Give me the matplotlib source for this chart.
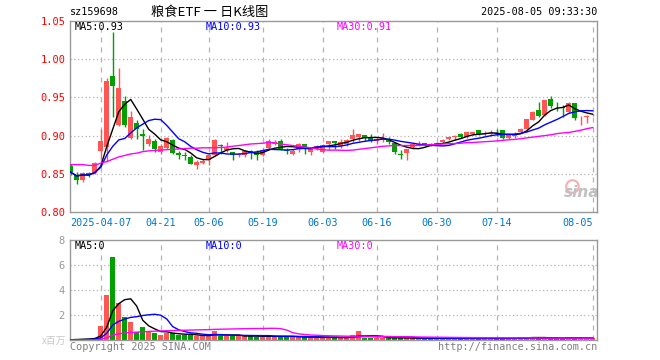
import numpy as np
import pandas as pd
import matplotlib.pyplot as plt

# daily OHLC, 2025-03-31 .. 2025-08-05 (88 trading days)
opens = [0.860, 0.849, 0.8425, 0.851, 0.851, 0.880, 0.885, 0.978, 0.914, 0.9455,
         0.897, 0.9166, 0.9025, 0.8894, 0.8925, 0.878, 0.884, 0.894, 0.877, 0.8745,
         0.872, 0.862, 0.864, 0.8675, 0.874, 0.8872, 0.8815, 0.878, 0.8745, 0.875,
         0.880, 0.8785, 0.8741, 0.8841, 0.889, 0.893, 0.8815, 0.876, 0.882, 0.8886,
         0.8785, 0.883, 0.8785, 0.8886, 0.8925, 0.8864, 0.8894, 0.8951, 0.8982, 0.9013,
         0.898, 0.8925, 0.8938, 0.8938, 0.8907, 0.8755, 0.8771, 0.8851, 0.8881, 0.890,
         0.8895, 0.8885, 0.8918, 0.896, 0.898, 0.9015, 0.898, 0.9017, 0.907, 0.9017,
         0.902, 0.9035, 0.907, 0.8975, 0.900, 0.9048, 0.9092, 0.921, 0.9335, 0.9267,
         0.9478, 0.9378, 0.937, 0.9311, 0.9421, 0.9215, 0.9245, 0.9265]
closes = [0.852, 0.8425, 0.851, 0.848, 0.864, 0.8925, 0.972, 0.965, 0.962, 0.9136,
          0.924, 0.909, 0.8995, 0.895, 0.882, 0.8865, 0.897, 0.8775, 0.875, 0.8735,
          0.8631, 0.8653, 0.8666, 0.874, 0.8947, 0.8859, 0.884, 0.875, 0.8763, 0.8793,
          0.8775, 0.8741, 0.8815, 0.8929, 0.8915, 0.883, 0.880, 0.8798, 0.8894, 0.8835,
          0.882, 0.8864, 0.888, 0.8925, 0.890, 0.8916, 0.8938, 0.9013, 0.9025, 0.897,
          0.8925, 0.8951, 0.8973, 0.8916, 0.8785, 0.875, 0.882, 0.8894, 0.8894, 0.8872,
          0.8875, 0.8905, 0.8938, 0.898, 0.900, 0.8978, 0.9045, 0.9045, 0.9017, 0.9035,
          0.904, 0.9026, 0.8975, 0.9004, 0.9022, 0.909, 0.9214, 0.9311, 0.926, 0.9466,
          0.9385, 0.9372, 0.936, 0.9421, 0.9225, 0.9223, 0.9256, 0.9276]
highs = [0.863, 0.852, 0.852, 0.852, 0.865, 0.908, 0.975, 1.035, 0.988, 0.9516,
         0.932, 0.920, 0.909, 0.901, 0.895, 0.889, 0.898, 0.895, 0.880, 0.878,
         0.8741, 0.8675, 0.8697, 0.8763, 0.896, 0.8886, 0.8916, 0.8785, 0.8776, 0.8815,
         0.8815, 0.8807, 0.8832, 0.896, 0.894, 0.895, 0.8841, 0.8828, 0.890, 0.8895,
         0.8851, 0.888, 0.889, 0.8925, 0.8925, 0.8951, 0.896, 0.9083, 0.9025, 0.9013,
         0.9025, 0.8982, 0.9039, 0.8982, 0.8916, 0.8807, 0.8829, 0.8894, 0.8925, 0.8905,
         0.8905, 0.891, 0.8955, 0.899, 0.9005, 0.9035, 0.9048, 0.9048, 0.907, 0.9057,
         0.907, 0.9083, 0.907, 0.9004, 0.905, 0.910, 0.9223, 0.932, 0.9445, 0.9466,
         0.9512, 0.9443, 0.9399, 0.9443, 0.9421, 0.926, 0.9267, 0.928]
lows = [0.849, 0.837, 0.839, 0.8455, 0.850, 0.870, 0.865, 0.925, 0.912, 0.911,
        0.895, 0.896, 0.8806, 0.887, 0.879, 0.876, 0.8825, 0.8765, 0.870, 0.868,
        0.8622, 0.8565, 0.8622, 0.8609, 0.8728, 0.8763, 0.878, 0.8684, 0.8719, 0.8719,
        0.8695, 0.8684, 0.8728, 0.8828, 0.8875, 0.8815, 0.8763, 0.8741, 0.8785, 0.876,
        0.875, 0.881, 0.8776, 0.8807, 0.8829, 0.8837, 0.8864, 0.8916, 0.8925, 0.8925,
        0.8916, 0.8894, 0.8916, 0.8894, 0.8763, 0.8697, 0.8675, 0.8829, 0.8864, 0.886,
        0.8865, 0.8875, 0.8905, 0.8945, 0.8945, 0.8965, 0.8965, 0.9005, 0.9005, 0.900,
        0.9005, 0.8995, 0.8955, 0.8951, 0.8965, 0.904, 0.9083, 0.920, 0.925, 0.9255,
        0.9364, 0.932, 0.925, 0.9302, 0.9205, 0.9145, 0.917, 0.926]
# MA30 as drawn (includes history before the first visible day)
ma30_price = [0.862, 0.862, 0.862, 0.861, 0.861, 0.864, 0.866, 0.869, 0.872, 0.874,
              0.876, 0.877, 0.879, 0.880, 0.8806, 0.881, 0.8816, 0.882, 0.8825, 0.883,
              0.8835, 0.8835, 0.884, 0.884, 0.8842, 0.8845, 0.885, 0.886, 0.887, 0.888,
              0.889, 0.8895, 0.890, 0.891, 0.8905, 0.889, 0.888, 0.887, 0.886, 0.885,
              0.884, 0.8825, 0.8815, 0.881, 0.881, 0.8808, 0.8806, 0.881, 0.882, 0.883,
              0.884, 0.885, 0.886, 0.8865, 0.887, 0.887, 0.887, 0.887, 0.8872, 0.8875,
              0.888, 0.8885, 0.889, 0.8893, 0.8896, 0.890, 0.8908, 0.891, 0.8915, 0.892,
              0.8925, 0.893, 0.8938, 0.8945, 0.895, 0.896, 0.897, 0.898, 0.899, 0.900,
              0.901, 0.9025, 0.9035, 0.904, 0.9055, 0.907, 0.909, 0.9105]
# volume, millions
volumes = [0.10, 0.10, 0.10, 0.10, 0.19, 1.12, 3.60, 6.67, 2.93, 1.81,
           1.47, 0.67, 1.04, 0.67, 0.59, 0.40, 0.59, 0.53, 0.40, 0.40,
           0.40, 0.32, 0.32, 0.32, 0.72, 0.32, 0.32, 0.32, 0.32, 0.32,
           0.32, 0.27, 0.27, 0.32, 0.32, 0.27, 0.27, 0.27, 0.21, 0.21,
           0.21, 0.21, 0.21, 0.21, 0.21, 0.13, 0.21, 0.40, 0.72, 0.19,
           0.19, 0.19, 0.19, 0.16, 0.16, 0.16, 0.16, 0.13, 0.13, 0.13,
           0.13, 0.13, 0.13, 0.13, 0.13, 0.13, 0.13, 0.13, 0.13, 0.13,
           0.13, 0.13, 0.13, 0.13, 0.13, 0.24, 0.24, 0.24, 0.13, 0.13,
           0.13, 0.13, 0.13, 0.24, 0.13, 0.13, 0.13, 0.13]

tick_pos = [5, 15, 23, 32, 42, 51, 61, 71, 87]
tick_labels = ['2025-04-07', '04-21', '05-06', '05-19', '06-03', '06-16', '06-30', '07-14', '08-05']
price_ticks = [0.80, 0.85, 0.90, 0.95, 1.00, 1.05]
vol_ticks = [2, 4, 6, 8]

RED = '#ff5555'
GREEN = '#00a000'
GRID = '#b4b4b4'
MONO = 'DejaVu Sans Mono'

df = pd.DataFrame({'o': opens, 'c': closes, 'h': highs, 'l': lows, 'v': volumes})
x = np.arange(len(df))
up = df.c >= df.o
cols = np.where(up, RED, GREEN)

ma5 = df.c.rolling(5, min_periods=1).mean()
ma10 = df.c.rolling(10, min_periods=1).mean()
ma_v = {n: df.v.rolling(n, min_periods=1).sum() / n for n in (5, 10, 30)}

fig = plt.figure(figsize=(6.6, 3.6), dpi=100)
W, H = 660, 360


def box(l, t, r, b):
    return [l / W, 1 - b / H, (r - l) / W, (b - t) / H]


ax = fig.add_axes(box(70, 21, 597, 212))
axv = fig.add_axes(box(70, 240, 597, 340))

for a in (ax, axv):
    a.set_xlim(-0.12, 87.72)
    for s in a.spines.values():
        s.set_color('#999999')
        s.set_linewidth(1)
    for p in tick_pos:
        a.axvline(p, color=GRID, lw=0.9, ls=(0, (4, 4)), zorder=0)
    a.tick_params(length=0)

# price panel
ax.set_ylim(0.80, 1.05)
for yv in price_ticks[1:-1]:
    ax.axhline(yv, color=GRID, lw=0.9, ls=(0, (1, 2)), zorder=0)
ax.vlines(x, df.l, df.h, colors=cols, lw=1, zorder=2)
body = (df.c - df.o).abs().clip(lower=0.0008)
ax.bar(x, body, bottom=np.minimum(df.o, df.c), width=0.8, color=cols, zorder=3)
ax.plot(x, ma5, color='black', lw=1, zorder=4)
ax.plot(x, ma10, color='#0000ff', lw=1, zorder=4)
ax.plot(x, ma30_price, color='#ff00ff', lw=1, zorder=4)

ax.set_yticks(price_ticks)
ax.set_yticklabels(['%.2f' % t for t in price_ticks], color='red', family=MONO, fontsize=7.5)
ax.tick_params(axis='y', pad=3)
ax.set_xticks(tick_pos)
ax.set_xticklabels(tick_labels, color='#0077cc', family=MONO, fontsize=7.3)
ax.tick_params(axis='x', pad=4)
ax.get_xticklabels()[-1].set_ha('right')

ax.text(0.008, 0.968, 'MA5:%.2f' % ma5.iloc[-1], transform=ax.transAxes,
        family=MONO, fontsize=7.3, color='black', va='center')
ax.text((206 - 70) / 527, 0.968, 'MA10:%.2f' % ma10.iloc[-1], transform=ax.transAxes,
        family=MONO, fontsize=7.3, color='#0000ff', va='center')
ax.text((337 - 70) / 527, 0.968, 'MA30:%.2f' % ma30_price[-1], transform=ax.transAxes,
        family=MONO, fontsize=7.3, color='#ff00ff', va='center')

# sina watermark
ax.plot([83.6], [0.834], 'o', ms=9, mfc='none', mec='#f4b0b0', mew=1.5, zorder=1)
ax.text(85.2, 0.825, 'sina', fontsize=11, color='#c0c0c0', fontweight='bold', style='italic',
        ha='center', va='center', zorder=1)

# volume panel
axv.set_ylim(0, 8)
for yv in vol_ticks[:-1]:
    axv.axhline(yv, color=GRID, lw=0.9, ls=(0, (1, 2)), zorder=0)
axv.bar(x, df.v, width=0.8, color=cols, zorder=2)
axv.plot(x, ma_v[5], color='black', lw=1, zorder=3)
axv.plot(x, ma_v[10], color='#0000ff', lw=1, zorder=3)
axv.plot(x, ma_v[30], color='#ff00ff', lw=1, zorder=3)
axv.set_yticks(vol_ticks)
axv.set_yticklabels([str(t) for t in vol_ticks], color='#999999', family=MONO, fontsize=7.5)
axv.tick_params(axis='y', pad=4)
axv.set_xticks([])

axv.text(0.008, 0.94, 'MA5:0', transform=axv.transAxes, family=MONO, fontsize=7.3,
         color='black', va='center')
axv.text((206 - 70) / 527, 0.94, 'MA10:0', transform=axv.transAxes, family=MONO, fontsize=7.3,
         color='#0000ff', va='center')
axv.text((337 - 70) / 527, 0.94, 'MA30:0', transform=axv.transAxes, family=MONO, fontsize=7.3,
         color='#ff00ff', va='center')

# header / footer
fig.text(70 / W, 1 - 12 / H, 'sz159698', family=MONO, fontsize=7.3, va='center')
fig.text(210 / W, 1 - 12 / H, '粮食ETF 一 日K线图', family=['Noto Sans CJK SC', 'DejaVu Sans'],
         fontsize=9.5, ha='center', va='center')
fig.text(597 / W, 1 - 12 / H, '2025-08-05 09:33:30', family=MONO, fontsize=7.3,
         ha='right', va='center')
fig.text(66 / W, 1 - 341 / H, 'x百万', family=['Noto Sans CJK SC', 'DejaVu Sans'], fontsize=7,
         color='#c8c8c8', ha='right', va='center')
fig.text(70 / W, 1 - 347 / H, 'Copyright 2025 SINA.COM', family=MONO, fontsize=7.3,
         color='#808080', va='center')
fig.text(597 / W, 1 - 347 / H, 'http://finance.sina.com.cn', family=MONO, fontsize=7.3,
         color='#808080', ha='right', va='center')

fig.savefig('out.png', dpi=100)
